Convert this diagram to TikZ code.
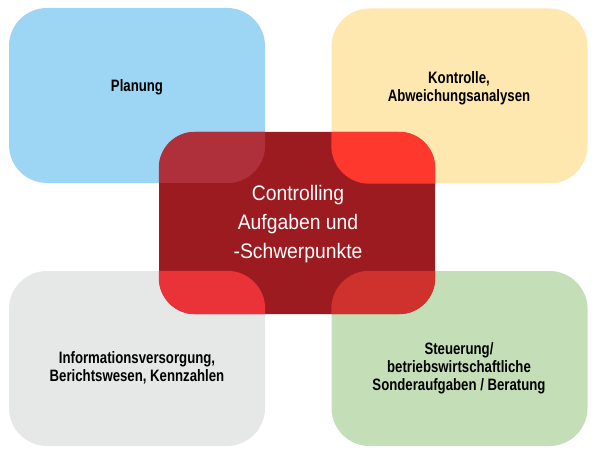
\documentclass[tikz,border=0pt]{standalone}
\usepackage{fontspec}
\newfontfamily\cond[FakeStretch=0.8]{Liberation Sans}
\newfontfamily\condc[FakeStretch=0.92]{Liberation Sans}
\definecolor{cblue}{RGB}{157,214,244}
\definecolor{cyellow}{RGB}{255,232,176}
\definecolor{cgray}{RGB}{230,231,231}
\definecolor{cgreen}{RGB}{196,223,184}
\definecolor{cred}{RGB}{155,27,32}
\definecolor{oblue}{RGB}{175,47,59}
\definecolor{oyellow}{RGB}{255,56,46}
\definecolor{ogray}{RGB}{233,51,56}
\definecolor{ogreen}{RGB}{207,50,44}
\begin{document}
\begin{tikzpicture}[x=1pt,y=-1pt,
  corner/.style={inner sep=0pt, minimum width=256pt, minimum height=175pt, rounded corners=38pt},
  lbl/.style={align=center, font=\cond\bfseries\fontsize{16.5}{17.8}\selectfont, text=black},
  centerlbl/.style={align=center, font=\condc\fontsize{21}{29}\selectfont, text=white}]
\useasboundingbox (0,0) rectangle (596,454);
\node[corner, fill=cblue] (blue) at (137,95.5) {};
\node[corner, fill=cyellow] (yellow) at (459.5,96) {};
\node[corner, fill=cgray] (gray) at (137,358.5) {};
\node[corner, fill=cgreen] (green) at (459.5,358.5) {};
\node[inner sep=0pt, minimum width=276pt, minimum height=182pt, rounded corners=36pt, fill=cred] (ctr) at (297,223) {};
\begin{scope}
  \clip[rounded corners=36pt] (ctr.north west) rectangle (ctr.south east);
  \fill[oblue, rounded corners=38pt] (blue.north west) rectangle (blue.south east);
  \fill[oyellow, rounded corners=38pt] (yellow.north west) rectangle (yellow.south east);
  \fill[ogray, rounded corners=38pt] (gray.north west) rectangle (gray.south east);
  \fill[ogreen, rounded corners=38pt] (green.north west) rectangle (green.south east);
\end{scope}
\node[lbl] (tblue) at (137,87) {Planung};
\node[lbl] (tyellow) at (459,88) {Kontrolle,\\Abweichungsanalysen};
\node[lbl] (tgray) at (137,368) {Informationsversorgung,\\Berichtswesen, Kennzahlen};
\node[lbl] (tgreen) at (459,368) {Steuerung/\\betriebswirtschaftliche\\Sonderaufgaben / Beratung};
\node[centerlbl] (tctr) at (298,224) {Controlling\\Aufgaben und\\-Schwerpunkte};
\end{tikzpicture}
\end{document}
